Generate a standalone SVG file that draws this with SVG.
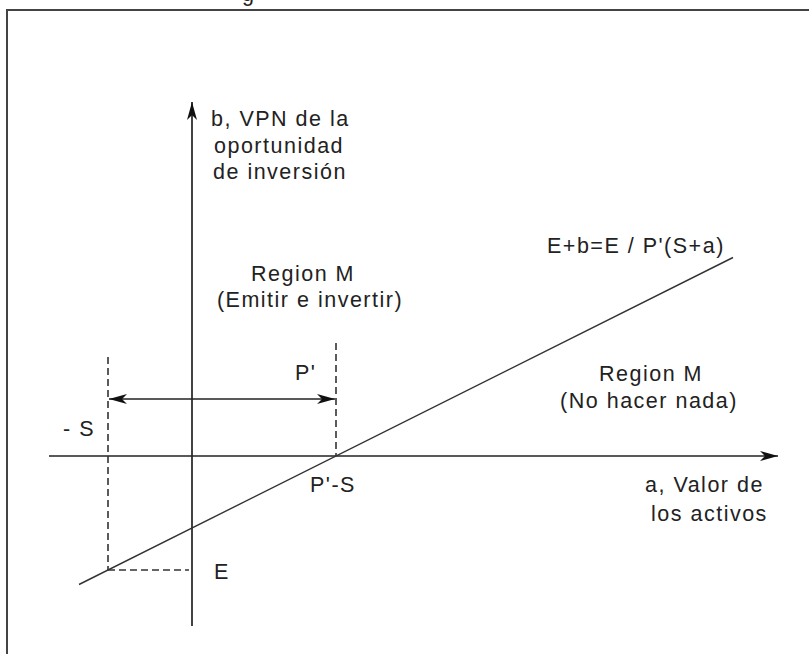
<svg xmlns="http://www.w3.org/2000/svg" width="809" height="654" viewBox="0 0 809 654">
<style>
text{font-family:"Liberation Sans",Arial,sans-serif;font-size:21.5px;fill:#222;letter-spacing:1.5px}
.ax{stroke:#222;stroke-width:1.7;fill:none}
.ln{stroke:#333;stroke-width:1.4;fill:none}
.ds{stroke:#333;stroke-width:1.6;fill:none;stroke-dasharray:7 4}
</style>
<defs>
<marker id="ah" markerUnits="userSpaceOnUse" markerWidth="20" markerHeight="12" refX="18" refY="5.5" orient="auto-start-reverse" viewBox="0 0 20 12">
<path d="M0,0.5 L18,5.5 L0,10.5 L5,5.5 z" fill="#111"/>
</marker>
</defs>
<rect x="0" y="0" width="809" height="654" fill="#fff"/>
<text x="242" y="1">g</text>
<rect id="frame" x="7" y="10" width="830" height="680" fill="none" stroke="#444" stroke-width="2"/>
<g id="connectors">
<line class="ax" x1="192" y1="626" x2="192" y2="102" marker-end="url(#ah)"/>
<line class="ax" x1="49" y1="456" x2="778" y2="456" marker-end="url(#ah)"/>
<line class="ln" x1="79" y1="584.5" x2="733" y2="257.5"/>
<line class="ds" x1="108" y1="357" x2="108" y2="570"/>
<line class="ds" x1="108" y1="570" x2="189" y2="570"/>
<line class="ds" x1="336" y1="343" x2="336" y2="456"/>
<line class="ax" x1="109" y1="399" x2="335" y2="399" marker-start="url(#ah)" marker-end="url(#ah)"/>
</g>
<g id="label-b">
<text x="211" y="126">b, VPN de la</text>
<text x="214" y="153">oportunidad</text>
<text x="213" y="179">de inversión</text>
</g>
<g id="label-eq"><text x="547" y="253">E+b=E / P'(S+a)</text></g>
<g id="region-upper">
<text x="303" y="281" text-anchor="middle">Region M</text>
<text x="310" y="307" text-anchor="middle">(Emitir e invertir)</text>
</g>
<g id="region-lower">
<text x="651" y="381" text-anchor="middle">Region M</text>
<text x="649" y="408" text-anchor="middle">(No hacer nada)</text>
</g>
<g id="label-a">
<text x="645" y="492">a, Valor de</text>
<text x="651" y="521">los activos</text>
</g>
<g id="label-s"><text x="63" y="436">- S</text></g>
<g id="label-p"><text x="295" y="380">P'</text></g>
<g id="label-ps"><text x="310" y="492">P'-S</text></g>
<g id="label-e"><text x="214" y="579">E</text></g>
</svg>
